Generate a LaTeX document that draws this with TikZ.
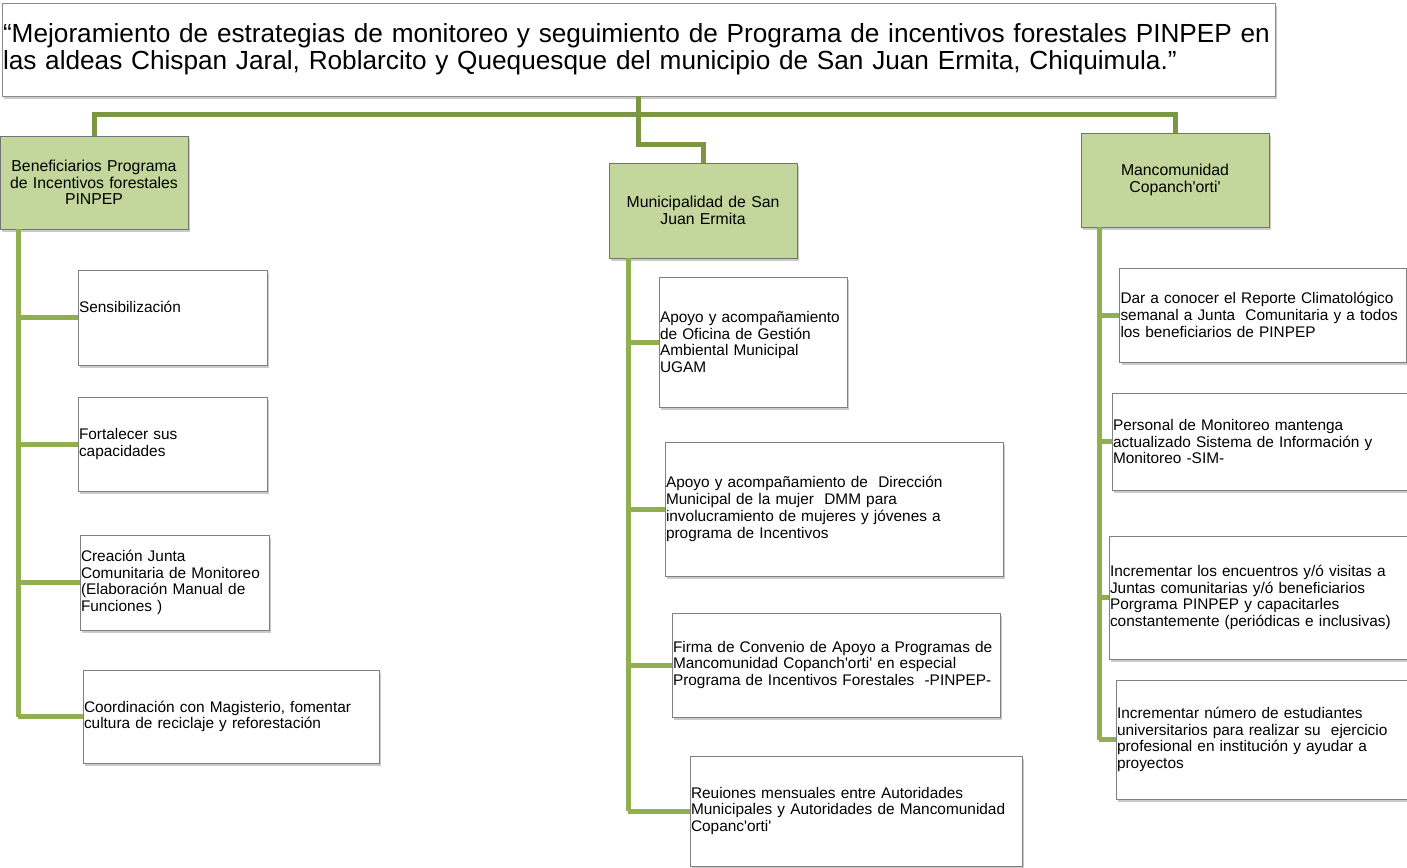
\documentclass[tikz,border=0pt]{standalone}
\usepackage{fontspec}
\setmainfont{Liberation Sans}
\usepackage{tikz}
\usetikzlibrary{shadows}

\definecolor{olivedark}{HTML}{7C9743}
\definecolor{olivelight}{HTML}{8FAF51}
\definecolor{headfill}{HTML}{C3D69B}
\newcommand{\apo}{\textquotesingle}
\hyphenpenalty=10000
\exhyphenpenalty=10000

\tikzset{
	boxshadow/.style={drop shadow={shadow xshift=2pt,shadow yshift=-3pt,opacity=.35,fill=black!60}},
	titlebox/.style={draw=black!45,fill=white,boxshadow,align=left,inner sep=1pt,
		font=\fontsize{26.2}{27}\selectfont},
	headbox/.style={draw=black!55,fill=headfill,boxshadow,align=center,inner sep=1pt,
		minimum width=188pt,text width=186pt,font=\fontsize{15.8}{16.3}\selectfont},
	leafbox/.style={draw=black!50,fill=white,boxshadow,align=left,inner sep=1pt,
		font=\fontsize{15.4}{16.8}\selectfont},
	trunk/.style={olivedark,line width=5pt},
	branch/.style={olivelight,line width=5pt}
}

\begin{document}
\begin{tikzpicture}[x=1pt,y=-1pt]

	\useasboundingbox (0,0) rectangle (1407,867);

	% titulo
	\node[titlebox,text width=1271pt,minimum height=93pt] (titulo) at (638.5,49.5)
		{``Mejoramiento de estrategias de monitoreo y seguimiento de Programa de incentivos forestales PINPEP en\\
		las aldeas Chispan Jaral, Roblarcito y Quequesque del municipio de San Juan Ermita, Chiquimula.''};

	% ejes principales
	\node[headbox,minimum height=93pt] (benef) at (94,182.5)
		{Beneficiarios Programa\\ de Incentivos forestales\\ PINPEP};
	\node[headbox,minimum height=95pt] (muni) at (703,210.5)
		{Municipalidad de San\\ Juan Ermita};
	\node[headbox,minimum height=94pt] (manco) at (1175,180)
		{Mancomunidad\\ Copanch\apo orti\apo};

	\coordinate (cruce) at (638,114);
	\coordinate (baja) at (638,144);
	\draw[trunk] (titulo.south -| cruce) -- (baja) -| (muni.north);
	\draw[trunk] (benef.north) |- (cruce) -| (manco.north);

	% beneficiarios
	\node[leafbox,text width=187pt,minimum height=95pt,text depth=22pt] (b1) at (172.5,317.5) {Sensibilización};
	\node[leafbox,text width=187pt,minimum height=94pt] (b2) at (172.5,444) {Fortalecer sus\\ capacidades};
	\node[leafbox,text width=187pt,minimum height=95pt] (b3) at (174.5,582.5)
		{Creación Junta\\ Comunitaria de Monitoreo\\ (Elaboración Manual de\\ Funciones )};
	\node[leafbox,text width=294pt,minimum height=93pt] (b4) at (231,716.5)
		{Coordinación con Magisterio, fomentar\\ cultura de reciclaje y reforestación};

	% municipalidad
	\node[leafbox,text width=186pt,minimum height=130pt] (m1) at (753,342)
		{Apoyo y acompañamiento\\ de Oficina de Gestión\\ Ambiental Municipal\\ UGAM};
	\node[leafbox,text width=336pt,minimum height=134pt] (m2) at (834,509)
		{Apoyo y acompañamiento de \ Dirección\\ Municipal de la mujer \ DMM para\\ involucramiento de mujeres y jóvenes a\\ programa de Incentivos};
	\node[leafbox,text width=326pt,minimum height=104pt] (m3) at (836,665)
		{Firma de Convenio de Apoyo a Programas de\\ Mancomunidad Copanch\apo orti\apo{} en especial\\ Programa de Incentivos Forestales \ -PINPEP-};
	\node[leafbox,text width=330pt,minimum height=110pt] (m4) at (856,811)
		{Reuiones mensuales entre Autoridades\\ Municipales y Autoridades de Mancomunidad\\ Copanc\apo orti\apo};

	% mancomunidad
	\node[leafbox,text width=285pt,minimum height=94pt] (c1) at (1263,315)
		{Dar a conocer el Reporte Climatológico\\ semanal a Junta \ Comunitaria y a todos\\ los beneficiarios de PINPEP};
	\node[leafbox,text width=293pt,minimum height=97pt] (c2) at (1259.5,441.5)
		{Personal de Monitoreo mantenga\\ actualizado Sistema de Información y\\ Monitoreo -SIM-};
	\node[leafbox,text width=296pt,minimum height=123pt] (c3) at (1258,597.5)
		{Incrementar los encuentros y/ó visitas a\\ Juntas comunitarias y/ó beneficiarios\\ Porgrama PINPEP y capacitarles\\ constantemente (periódicas e inclusivas)};
	\node[leafbox,text width=289pt,minimum height=119pt] (c4) at (1261.5,739.5)
		{Incrementar número de estudiantes\\ universitarios para realizar su \ ejercicio\\ profesional en institución y ayudar a\\ proyectos};

	% ramas
	\coordinate (lb) at (18,0);
	\coordinate (lm) at (628,0);
	\coordinate (lc) at (1099,0);
	\draw[branch] (benef.south -| lb) -- (lb |- b4.west);
	\draw[branch] (muni.south -| lm) -- (lm |- m4.west);
	\draw[branch] (manco.south -| lc) -- (lc |- c4.west);
	\foreach \n in {b1,b2,b3,b4} \draw[branch] (lb |- \n.west) -- (\n.west);
	\foreach \n in {m1,m2,m3,m4} \draw[branch] (lm |- \n.west) -- (\n.west);
	\foreach \n in {c1,c2,c3,c4} \draw[branch] (lc |- \n.west) -- (\n.west);

\end{tikzpicture}
\end{document}
